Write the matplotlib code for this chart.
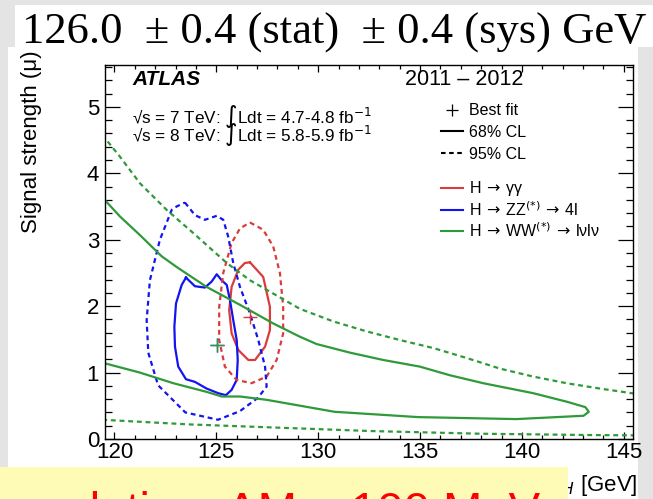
import matplotlib
matplotlib.use("Agg")
import matplotlib.pyplot as plt
from matplotlib.lines import Line2D
from matplotlib.patches import Rectangle
from matplotlib.ticker import MultipleLocator

plt.rcParams['font.family'] = ['Liberation Sans', 'DejaVu Sans']
plt.rcParams['mathtext.fontset'] = 'dejavusans'

# H -> gamma gamma contours (mH [GeV], mu)
gg68_m = [126.65, 127.30, 127.63, 127.63, 127.39, 126.90, 126.57, 126.08, 125.75, 125.63, 125.75, 126.08, 126.40]
gg68_mu = [2.66, 2.44, 1.99, 1.64, 1.39, 1.19, 1.19, 1.34, 1.59, 1.94, 2.29, 2.55, 2.65]
gg95_m = [126.65, 127.30, 127.79, 128.12, 128.28, 128.28, 127.96, 127.47, 126.73, 125.99, 125.42, 125.14, 125.14, 125.34, 125.75, 126.16]
gg95_mu = [3.26, 3.15, 2.90, 2.50, 1.99, 1.59, 1.19, 0.94, 0.84, 0.89, 1.09, 1.49, 1.99, 2.50, 2.95, 3.17]
gg_best = (126.65, 1.84)

# H -> ZZ -> 4l contours
zz68_m = [123.51, 123.95, 124.44, 124.77, 125.02, 125.26, 125.51, 125.67, 125.83, 126.00, 126.05, 126.00,
          125.75, 125.47, 125.09, 124.52, 123.95, 123.51, 123.13, 122.97, 122.94, 123.02, 123.30]
zz68_mu = [2.43, 2.30, 2.28, 2.37, 2.48, 2.39, 2.32, 2.09, 1.79, 1.49, 1.19, 0.89,
           0.74, 0.66, 0.69, 0.76, 0.86, 0.90, 1.09, 1.39, 1.69, 2.04, 2.32]
zz95_m = [123.46, 123.95, 124.44, 125.02, 125.34, 125.58, 125.83, 126.16, 126.65, 127.06, 127.39, 127.47,
          127.04, 126.16, 125.08, 123.48, 122.14, 121.66, 121.58, 121.74, 122.23, 122.81, 123.05]
zz95_mu = [3.56, 3.37, 3.30, 3.36, 3.30, 3.05, 2.65, 2.29, 1.89, 1.49, 1.09, 0.79,
           0.62, 0.42, 0.29, 0.40, 0.81, 1.30, 1.79, 2.39, 3.00, 3.45, 3.50]
zz_best = (125.05, 1.42)

# H -> WW -> lvlv contours (open towards low mass)
ww68_m = [119.40, 120.27, 121.25, 122.32, 123.05, 124.52, 126.16, 127.79, 129.10, 129.92, 131.56, 133.19,
          134.99, 136.46, 138.10, 140.55, 142.22, 143.11, 143.28, 143.02, 139.72, 134.90, 130.80, 127.47,
          126.16, 125.27, 124.52, 122.89, 121.25, 119.40]
ww68_mu = [3.64, 3.35, 3.07, 2.75, 2.59, 2.29, 2.02, 1.74, 1.54, 1.43, 1.30, 1.19,
           1.09, 0.96, 0.84, 0.69, 0.56, 0.48, 0.41, 0.35, 0.30, 0.33, 0.41, 0.59,
           0.64, 0.64, 0.71, 0.84, 1.00, 1.15]
ww95_up_m = [119.40, 120.27, 121.25, 122.56, 123.87, 125.51, 126.65, 127.79, 129.10, 130.74, 132.38,
             134.01, 135.64, 137.28, 138.92, 140.55, 142.19, 143.82, 145.60]
ww95_up_mu = [4.58, 4.25, 3.85, 3.45, 3.10, 2.65, 2.39, 2.19, 1.96, 1.77, 1.62,
              1.49, 1.37, 1.22, 1.06, 0.94, 0.84, 0.76, 0.68]
ww95_lo_m = [119.40, 123.66, 127.23, 132.59, 137.90, 143.28, 145.60]
ww95_lo_mu = [0.29, 0.22, 0.18, 0.12, 0.08, 0.06, 0.055]
ww_best = (125.05, 1.42)

c_red = '#da3c3c'
c_blue = '#1414f0'
c_green = '#2e9a3a'
dash = (0, (2.2, 1.7))

fig = plt.figure(figsize=(6.53, 4.99), dpi=100, facecolor='#e4e4e4')
# slide panels
fig.add_artist(Rectangle((15 / 653, 1 - 47 / 499), 638 / 653, 42 / 499, transform=fig.transFigure,
                         facecolor='white', edgecolor='none', zorder=-2))
fig.add_artist(Rectangle((8 / 653, 0), 630 / 653, 1 - 47 / 499, transform=fig.transFigure,
                         facecolor='white', edgecolor='none', zorder=-2))

ax = fig.add_axes([0.1603, 0.1202, 0.8091, 0.7495])

for m, mu, col in [(gg68_m, gg68_mu, c_red), (zz68_m, zz68_mu, c_blue)]:
    ax.plot(m + m[:1], mu + mu[:1], color=col, lw=1.6)
for m, mu, col in [(gg95_m, gg95_mu, c_red), (zz95_m, zz95_mu, c_blue)]:
    ax.plot(m + m[:1], mu + mu[:1], color=col, lw=1.6, ls=dash)
ax.plot(ww68_m, ww68_mu, color=c_green, lw=1.6)
ax.plot(ww95_up_m, ww95_up_mu, color=c_green, lw=1.6, ls=dash)
ax.plot(ww95_lo_m, ww95_lo_mu, color=c_green, lw=1.6, ls=dash)

ax.plot(*gg_best, marker='+', color=c_red, ms=10, mew=1.0)
ax.plot(*zz_best, marker='+', color=c_blue, ms=10, mew=1.0)
ax.plot(*ww_best, marker='+', color=c_green, ms=10, mew=1.0)

ax.set_xlim(119.52, 145.45)
ax.set_ylim(0, 5.63)
ax.xaxis.set_major_locator(MultipleLocator(5))
ax.xaxis.set_minor_locator(MultipleLocator(1))
ax.yaxis.set_major_locator(MultipleLocator(1))
ax.yaxis.set_minor_locator(MultipleLocator(0.2))
ax.tick_params(which='both', direction='in', top=True, right=True, width=0.9, labelsize=16)
ax.tick_params(axis='x', which='major', length=5, pad=2)
ax.tick_params(axis='x', which='minor', length=3)
ax.tick_params(axis='y', which='major', length=10.5, pad=4)
ax.tick_params(axis='y', which='minor', length=5)
for s in ax.spines.values():
    s.set_linewidth(1.0)

ax.set_ylabel('Signal strength (μ)', fontsize=16, loc='top')
ax.yaxis.set_label_coords(-0.118, 1.04)
ax.set_xlabel('m$_H$ [GeV]', fontsize=16, loc='right')
ax.xaxis.set_label_coords(1.008, -0.09)

ax.text(0.052, 0.96, 'ATLAS', transform=ax.transAxes, fontsize=15, fontweight='bold',
        fontstyle='italic', va='center')
ax.text(0.568, 0.96, '2011 – 2012', transform=ax.transAxes, fontsize=15.5, va='center')
ax.text(0.052, 0.862, r'√s = 7 TeV: $\int$Ldt = 4.7-4.8 fb$^{-1}$', transform=ax.transAxes,
        fontsize=12.3, va='center')
ax.text(0.052, 0.815, r'√s = 8 TeV: $\int$Ldt = 5.8-5.9 fb$^{-1}$', transform=ax.transAxes,
        fontsize=12.3, va='center')

h1 = [Line2D([], [], color='k', marker='+', ls='none', ms=8, mew=0.9),
      Line2D([], [], color='k', lw=1.5),
      Line2D([], [], color='k', lw=1.5, ls=dash)]
leg1 = ax.legend(h1, ['Best fit', '68% CL', '95% CL'], loc='upper left', bbox_to_anchor=(0.636, 0.898),
                 frameon=False, fontsize=11.5, borderpad=0, borderaxespad=0, handlelength=1.4,
                 handletextpad=0.35, labelspacing=0.42)
ax.add_artist(leg1)
h2 = [Line2D([], [], color=c_red, lw=1.5), Line2D([], [], color=c_blue, lw=1.5),
      Line2D([], [], color=c_green, lw=1.5)]
ax.legend(h2, [r'H$\,\rightarrow\,$γγ', r'H$\,\rightarrow\,$ZZ$^{(*)}\,\rightarrow\,$4l',
               r'H$\,\rightarrow\,$WW$^{(*)}\,\rightarrow\,$lνlν'], loc='upper left',
          bbox_to_anchor=(0.636, 0.694), frameon=False, fontsize=11.5, borderpad=0, borderaxespad=0,
          handlelength=1.4, handletextpad=0.35, labelspacing=0.12)

fig.text(22 / 653, 1 - 44 / 499, '126.0  ± 0.4 (stat)  ± 0.4 (sys) GeV', family='Liberation Serif',
         fontsize=32.1, va='baseline', ha='left')

fig.add_artist(Rectangle((0, 0), 568 / 653, 32 / 499, transform=fig.transFigure,
                         facecolor='#fefbb6', edgecolor='none', zorder=5))
fig.text(540 / 653, -26 / 499, 'Mass correlation  ΔM ~ 100 MeV', color='#ff0000', fontsize=34,
         ha='right', va='baseline', zorder=6)

fig.savefig('out.png', dpi=100, facecolor=fig.get_facecolor())
